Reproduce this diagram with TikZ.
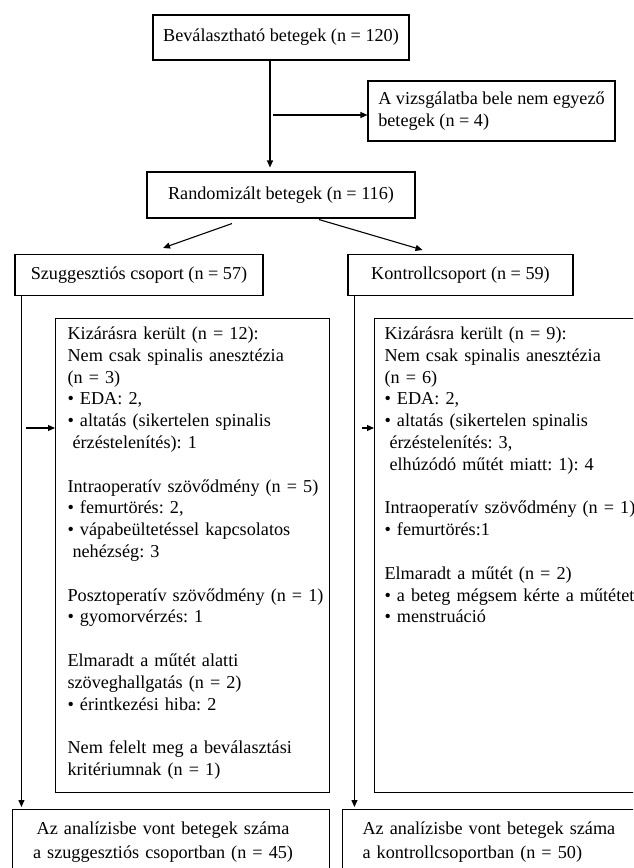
\documentclass[tikz,border=0pt]{standalone}
\usepackage{fontspec}
\setmainfont{Liberation Serif}
\usetikzlibrary{arrows.meta,positioning}
\newcommand{\contline}{\hspace*{5pt}}
\frenchspacing

\begin{document}
\begin{tikzpicture}[
    x=1pt, y=-1pt,
    box/.style={rectangle, draw, line width=1.1pt, inner sep=0pt, align=center, font=\fontsize{18.2}{21.8}\selectfont},
    listbox/.style={box, align=left, anchor=north west, text width=274pt, text height=21pt, text depth=453pt},
    finalbox/.style={box, anchor=north west, inner xsep=8pt, text width=301pt, text height=25pt, text depth=46pt},
    arrow/.style={-{Triangle[length=7pt,width=6pt]}, line width=1.1pt}
]
    \useasboundingbox (0,0) rectangle (633,868);
    \clip (0,0) rectangle (633,868);

    % Flow nodes
    \node[box, minimum width=256pt, minimum height=45pt] (elig) at (281,37.5) {Beválasztható betegek (n = 120)};
    \node[box, align=left, minimum width=247pt, minimum height=60pt] (notmatch) at (491.5,111) {A vizsgálatba bele nem egyező\\betegek (n = 4)};
    \node[box, minimum width=268pt, minimum height=46pt] (random) at (281,195) {Randomizált betegek (n = 116)};
    \node[box, minimum width=248pt, minimum height=41pt] (sugg) at (139,275) {Szuggesztiós csoport (n = 57)};
    \node[box, minimum width=225pt, minimum height=41pt] (ctrl) at (460.5,275) {Kontrollcsoport (n = 59)};

    % Exclusions
    \node[listbox] (suggout) at (55,318) {\leftskip=12pt\relax Kizárásra került (n = 12):\\
        Nem csak spinalis anesztézia\\
        (n = 3)\\
        • EDA: 2,\\
        • altatás (sikertelen spinalis\\
        \contline érzéstelenítés): 1\\[21.8pt]
        Intraoperatív szövődmény (n = 5)\\
        • femurtörés: 2,\\
        • vápabeültetéssel kapcsolatos\\
        \contline nehézség: 3\\[21.8pt]
        Posztoperatív szövődmény (n = 1)\\
        • gyomorvérzés: 1\\[21.8pt]
        Elmaradt a műtét alatti\\
        szöveghallgatás (n = 2)\\
        • érintkezési hiba: 2\\[21.8pt]
        Nem felelt meg a beválasztási\\
        kritériumnak (n = 1)\par};
    \node[listbox] (ctrlout) at (374,318) {\leftskip=10pt\relax Kizárásra került (n = 9):\\
        Nem csak spinalis anesztézia\\
        (n = 6)\\
        • EDA: 2,\\
        • altatás (sikertelen spinalis\\
        \contline érzéstelenítés: 3,\\
        \contline elhúzódó műtét miatt: 1): 4\\[21.8pt]
        Intraoperatív szövődmény (n = 1)\\
        • femurtörés:1\\[21.8pt]
        Elmaradt a műtét (n = 2)\\
        • a beteg mégsem kérte a műtétet\\
        • menstruáció\par};

    % Analysed
    \node[finalbox] (suggfinal) at (12,809) {Az analízisbe vont betegek száma\kern16pt\\[2.2pt]a szuggesztiós csoportban (n = 45)\kern16pt};
    \node[finalbox, align=left, inner xsep=20pt, text width=280pt] (ctrlfinal) at (342,809) {Az analízisbe vont betegek száma\\[2.2pt]a kontrollcsoportban (n = 50)};

    \coordinate (spine) at (270,0);
    \coordinate (suggin) at ([yshift=-110pt]suggout.north west);
    \coordinate (ctrlin) at ([yshift=-110pt]ctrlout.north west);

    % Arrows
    \draw[arrow, shorten >=4pt] (elig.south -| spine) -- (random.north -| spine);
    \draw[arrow] ([xshift=3pt, yshift=-4pt]spine |- notmatch.west) -- ([yshift=-4pt]notmatch.west);
    \draw[arrow] ([xshift=-49pt, yshift=-5pt]random.south) -- ([xshift=24pt, yshift=6pt]sugg.north);
    \draw[arrow] ([xshift=38pt, yshift=-1pt]random.south) -- ([xshift=-38pt, yshift=4pt]ctrl.north);
    \draw[arrow, shorten >=2pt] ([xshift=7pt]sugg.south west) -- ([xshift=7pt]sugg.south west |- suggfinal.north);
    \draw[arrow, shorten >=2pt] ([xshift=7pt]ctrl.south west) -- ([xshift=7pt]ctrl.south west |- ctrlfinal.north);
    \draw[arrow] ([xshift=12pt]sugg.south west |- suggin) -- (suggin);
    \draw[arrow] ([xshift=15pt]ctrl.south west |- ctrlin) -- (ctrlin);

\end{tikzpicture}
\end{document}
